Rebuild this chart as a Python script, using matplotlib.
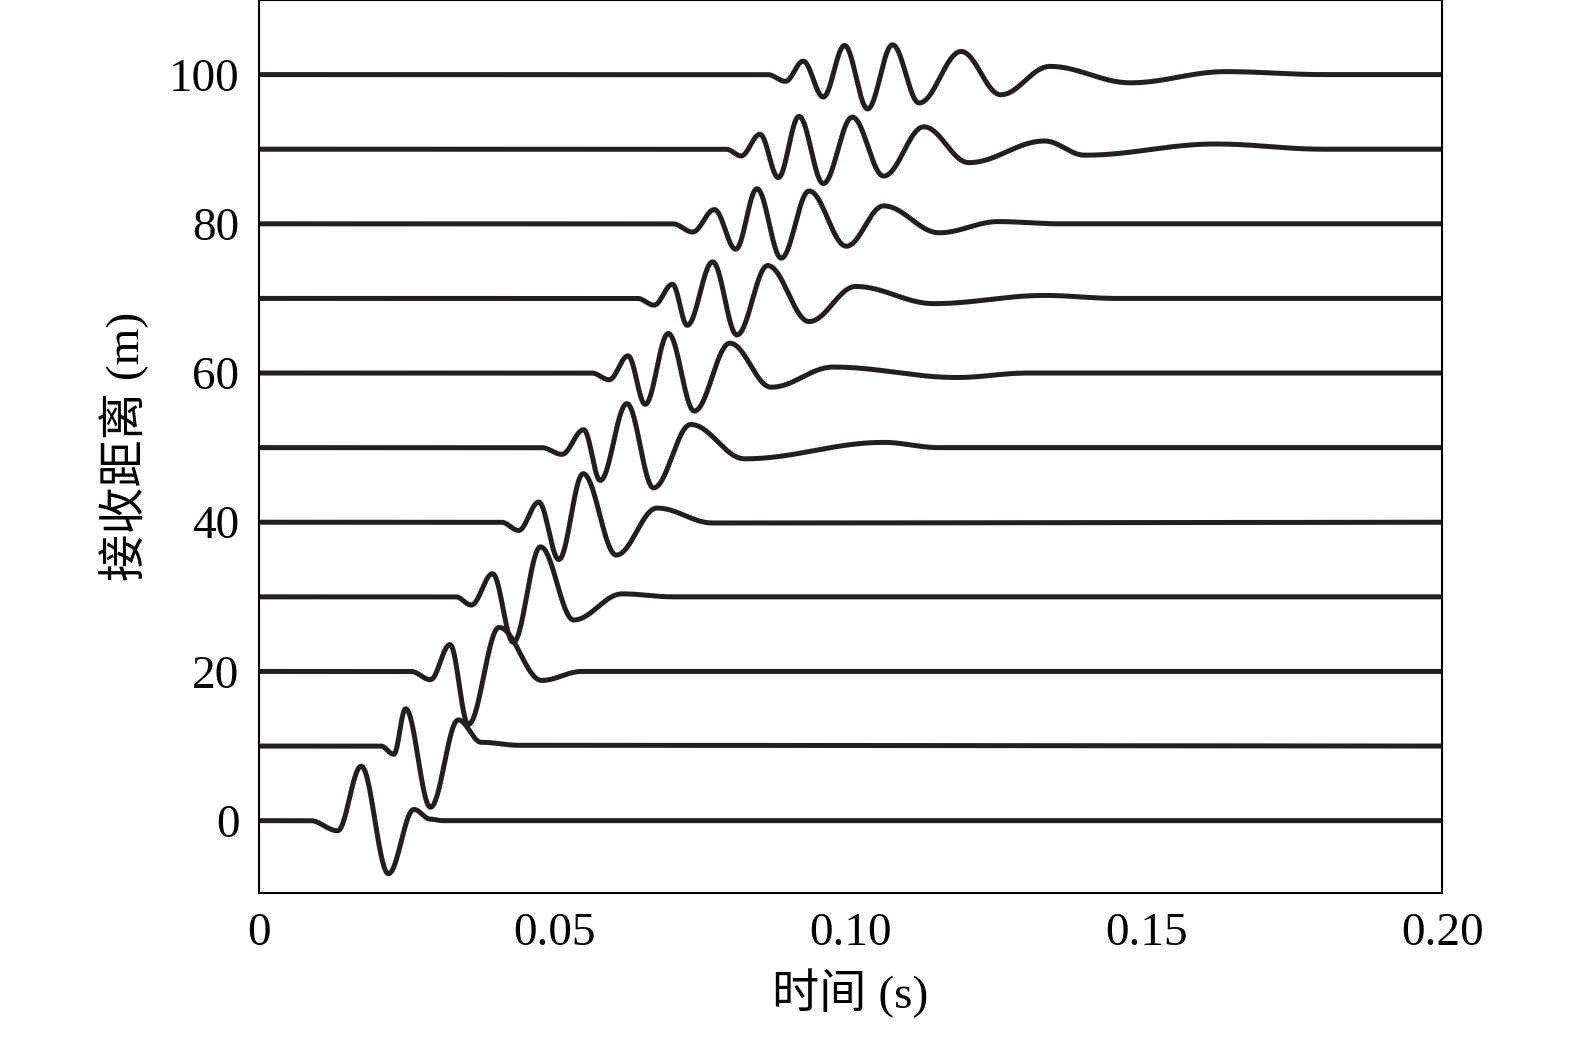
import numpy as np
import matplotlib
matplotlib.use("Agg")
import matplotlib.pyplot as plt

plt.rcParams['font.family'] = ['Liberation Serif', 'Noto Sans CJK SC']

offsets = [0, 10, 20, 30, 40, 50, 60, 70, 80, 90, 100]
# key points (time s, amplitude), per trace
trace_t = [
    [0.0087, 0.0133, 0.0173, 0.0219, 0.0262, 0.0290, 0.0310],
    [0.0206, 0.0228, 0.0248, 0.0290, 0.0337, 0.0376, 0.0440],
    [0.0257, 0.0290, 0.0323, 0.0354, 0.0406, 0.0478, 0.0546],
    [0.0333, 0.0359, 0.0395, 0.0430, 0.0476, 0.0532, 0.0614, 0.0700],
    [0.0410, 0.0439, 0.0473, 0.0507, 0.0548, 0.0604, 0.0673, 0.0767],
    [0.0478, 0.0512, 0.0549, 0.0577, 0.0622, 0.0667, 0.0730, 0.0821, 0.1056, 0.1150],
    [0.0563, 0.0592, 0.0624, 0.0653, 0.0692, 0.0736, 0.0796, 0.0866, 0.0971, 0.1180, 0.1300],
    [0.0640, 0.0668, 0.0699, 0.0724, 0.0767, 0.0808, 0.0860, 0.0930, 0.1009, 0.1141, 0.1328, 0.1450],
    [0.0700, 0.0733, 0.0770, 0.0806, 0.0842, 0.0883, 0.0930, 0.0993, 0.1056, 0.1150, 0.1250, 0.1350],
    [0.0790, 0.0815, 0.0847, 0.0878, 0.0913, 0.0954, 0.1003, 0.1056, 0.1124, 0.1200, 0.1328, 0.1396, 0.1617, 0.1800],
    [0.0860, 0.0890, 0.0920, 0.0954, 0.0990, 0.1029, 0.1071, 0.1116, 0.1187, 0.1254, 0.1337, 0.1473, 0.1634, 0.1800],
]
trace_a = [
    [0, -1.35, 7.3, -7.1, 1.5, 0.2, 0],
    [0, -1.1, 5.0, -8.2, 3.5, 0.5, 0.1],
    [0, -1.1, 3.6, -7.1, 5.9, -1.2, 0],
    [0, -1.1, 3.1, -6.1, 6.7, -3.1, 0.4, 0],
    [0, -1.1, 2.7, -5.0, 6.5, -4.4, 1.9, -0.1],
    [0, -0.9, 2.4, -4.4, 5.9, -5.4, 3.1, -1.5, 0.7, 0],
    [0, -0.9, 2.3, -4.2, 5.3, -5.1, 4.0, -1.9, 0.8, -0.6, 0],
    [0, -0.9, 1.9, -3.6, 4.9, -4.9, 4.4, -3.1, 1.6, -0.7, 0.4, 0],
    [0, -1.1, 1.9, -3.4, 4.7, -4.6, 4.4, -3.0, 2.4, -1.2, 0.3, 0],
    [0, -0.9, 2.0, -3.8, 4.4, -4.6, 4.3, -3.6, 3.0, -1.8, 1.1, -0.8, 0.7, 0],
    [0, -0.9, 1.8, -3.0, 3.9, -4.6, 4.0, -3.8, 3.1, -2.7, 1.1, -1.1, 0.4, 0],
]
xticks = [0, 0.05, 0.10, 0.15, 0.20]
xticklabels = ['0', '0.05', '0.10', '0.15', '0.20']
yticks = [0, 20, 40, 60, 80, 100]


def smooth(tk, ak, t):
    tk = np.concatenate([[0.0], tk, [0.2]])
    ak = np.concatenate([[0.0], ak, [0.0]])
    y = np.zeros_like(t)
    for i in range(len(tk) - 1):
        m = (t >= tk[i]) & (t <= tk[i + 1])
        s = (t[m] - tk[i]) / (tk[i + 1] - tk[i])
        y[m] = ak[i] + (ak[i + 1] - ak[i]) * (1 - np.cos(np.pi * s)) / 2
    return y


fig = plt.figure(figsize=(15.75, 10.43), dpi=100)
ax = fig.add_axes([0.1644, 0.1438, 0.7512, 0.8562])
t = np.linspace(0, 0.2, 4000)
for off, tk, ak in zip(offsets, trace_t, trace_a):
    ax.plot(t, off + smooth(np.array(tk), np.array(ak), t), color='#231f20', lw=3.6,
            solid_capstyle='round')
ax.set_xlim(0, 0.2)
ax.set_ylim(-9.7, 110)
ax.set_xticks(xticks)
ax.set_xticklabels(xticklabels)
ax.set_yticks(yticks)
ax.tick_params(length=0, labelsize=34, pad=14)
for s in ax.spines.values():
    s.set_linewidth(1.5)
ax.set_xlabel('时间 (s)', fontsize=34, labelpad=10)
ax.set_ylabel('接收距离 (m)', fontsize=34, labelpad=14)
fig.savefig('out.png', dpi=100)
